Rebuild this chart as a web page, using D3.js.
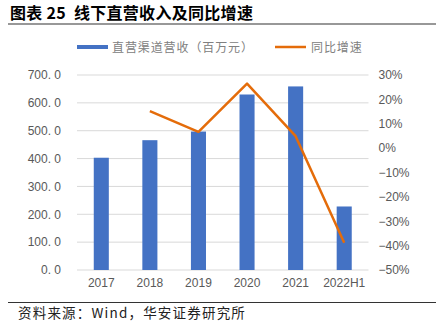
<!DOCTYPE html>
<html><head><meta charset="utf-8">
<script src="https://cdn.jsdelivr.net/npm/d3@7"></script>
<style>body{margin:0;background:#fff}svg{display:block}text{white-space:pre}</style>
</head><body>
<script>
const categories = ["2017","2018","2019","2020","2021","2022H1"];
const revenue = [403, 466, 497, 630, 659, 228];
const growth = [null, 15.2, 6.7, 26.5, 4.9, -38.8];
const leftTicks = [0,100,200,300,400,500,600,700];
const rightTicks = [-50,-40,-30,-20,-10,0,10,20,30];
const title = "图表 25  线下直营收入及同比增速";
const legendLabels = ["直营渠道营收（百万元）","同比增速"];
const source = "资料来源：Wind，华安证券研究所";

const W=436,H=327;
const svg=d3.select("body").append("svg").attr("width",W).attr("height",H);
const cjk='"Noto Sans CJK SC","Noto Sans",sans-serif';
const num='"Liberation Sans",Arial,sans-serif';
const m={l:77,r:368.5,t:75,b:270};

const x=d3.scaleBand().domain(categories).range([m.l,m.r]).paddingInner(0.69).paddingOuter(0.345);
const yL=d3.scaleLinear().domain([0,700]).range([m.b,m.t]);
const yR=d3.scaleLinear().domain([-50,30]).range([m.b,m.t]);

// title
svg.append("text").attr("x",10).attr("y",19).attr("font-family",cjk).attr("font-weight","bold")
  .attr("font-size",16).attr("letter-spacing",0.3).attr("fill","#000").text(title);
svg.append("line").attr("x1",8).attr("x2",436).attr("y1",24).attr("y2",24).attr("stroke","#333").attr("stroke-width",1.2);

// grid
svg.append("g").selectAll("line").data(leftTicks).join("line")
  .attr("x1",m.l).attr("x2",m.r).attr("y1",d=>yL(d)).attr("y2",d=>yL(d))
  .attr("stroke","#d9d9d9").attr("stroke-width",1);

// left axis
const gl=svg.append("g").attr("transform",`translate(${m.l-16},0)`)
  .call(d3.axisLeft(yL).tickValues(leftTicks).tickSize(0).tickPadding(0).tickFormat(d=>d3.format(".1f")(d).replace(".",". ")));
gl.select(".domain").remove();
gl.selectAll("text").attr("font-family",num).attr("font-size",12).attr("fill","#595959");

// right axis
const gr=svg.append("g").attr("transform",`translate(${m.r+10},0)`)
  .call(d3.axisRight(yR).tickValues(rightTicks).tickSize(0).tickPadding(0).tickFormat(d=>(d<0?"−"+Math.abs(d):d)+"%"));
gr.select(".domain").remove();
gr.selectAll("text").attr("font-family",num).attr("font-size",12).attr("fill","#595959");

// bottom axis
const gb=svg.append("g").attr("transform",`translate(0,${m.b+8})`)
  .call(d3.axisBottom(x).tickSize(0).tickPadding(0));
gb.select(".domain").remove();
gb.selectAll("text").attr("font-family",num).attr("font-size",12).attr("fill","#595959").attr("dy","0.71em");

// bars
svg.append("g").selectAll("rect").data(revenue).join("rect")
  .attr("x",(d,i)=>x(categories[i])).attr("width",x.bandwidth())
  .attr("y",d=>yL(d)).attr("height",d=>yL(0)-yL(d)).attr("fill","#4472c4");

// line
const pts=growth.map((g,i)=>({c:categories[i],g})).filter(p=>p.g!==null);
svg.append("path").datum(pts)
  .attr("d",d3.line().x(p=>x(p.c)+x.bandwidth()/2).y(p=>yR(p.g)))
  .attr("fill","none").attr("stroke","#e46c0a").attr("stroke-width",2.5).attr("stroke-linejoin","round");

// legend
const lg=svg.append("g");
lg.append("rect").attr("x",77).attr("y",45).attr("width",31).attr("height",4).attr("fill","#4472c4");
lg.append("text").attr("x",112).attr("y",51.5).attr("font-family",cjk).attr("font-size",12).attr("letter-spacing",0.9).attr("fill","#808080").text(legendLabels[0]);
lg.append("line").attr("x1",275).attr("x2",306).attr("y1",47).attr("y2",47).attr("stroke","#e46c0a").attr("stroke-width",2.5);
lg.append("text").attr("x",311).attr("y",51.5).attr("font-family",cjk).attr("font-size",12).attr("letter-spacing",0.9).attr("fill","#808080").text(legendLabels[1]);

// footer
svg.append("line").attr("x1",8).attr("x2",436).attr("y1",302.5).attr("y2",302.5).attr("stroke","#333").attr("stroke-width",1.2);
svg.append("text").attr("x",18).attr("y",318).attr("font-family",cjk).attr("font-size",13.5).attr("letter-spacing",1.2).attr("fill","#222").text(source);
</script>
</body></html>
